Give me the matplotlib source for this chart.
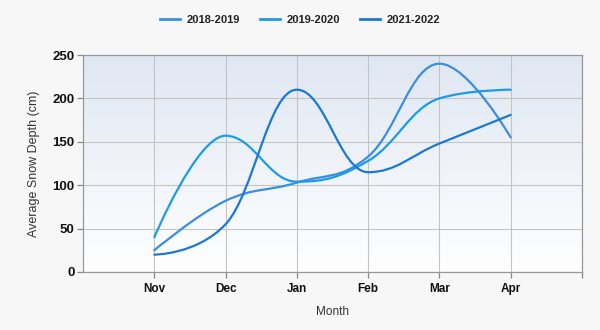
import matplotlib
matplotlib.use("Agg")
import matplotlib.pyplot as plt
import numpy as np
from matplotlib.path import Path
from matplotlib.patches import PathPatch
from matplotlib.lines import Line2D

plt.rcParams['font.family'] = ['Liberation Sans', 'DejaVu Sans']

months = ["Nov", "Dec", "Jan", "Feb", "Mar", "Apr"]
series_names = ["2018-2019", "2019-2020", "2021-2022"]
s2018 = [25, 82, 103, 133, 240, 155]
s2019 = [40, 157, 104, 128, 200, 210]
s2021 = [20, 55, 210, 115, 148, 181]
colors = ["#3b8de0", "#1c9be9", "#1a78d6"]

def hc_spline(xs, ys):
    n = len(xs)
    verts = [(xs[0], ys[0])]
    codes = [Path.MOVETO]
    sm = 1.5
    den = sm + 1
    left = [None] * n
    right = [None] * n
    for i in range(n):
        x, y = xs[i], ys[i]
        if i == 0 or i == n - 1:
            left[i] = (x, y)
            right[i] = (x, y)
            continue
        lx, ly = xs[i - 1], ys[i - 1]
        nx, ny = xs[i + 1], ys[i + 1]
        lcx = (sm * x + lx) / den
        lcy = (sm * y + ly) / den
        rcx = (sm * x + nx) / den
        rcy = (sm * y + ny) / den
        corr = 0
        if rcx != lcx:
            corr = (rcy - lcy) * (rcx - x) / (rcx - lcx) + y - rcy
        lcy += corr
        rcy += corr
        if lcy > ly and lcy > y:
            lcy = max(ly, y); rcy = 2 * y - lcy
        elif lcy < ly and lcy < y:
            lcy = min(ly, y); rcy = 2 * y - lcy
        if rcy > ny and rcy > y:
            rcy = max(ny, y); lcy = 2 * y - rcy
        elif rcy < ny and rcy < y:
            rcy = min(ny, y); lcy = 2 * y - rcy
        left[i] = (lcx, lcy)
        right[i] = (rcx, rcy)
    for i in range(1, n):
        verts += [right[i - 1], left[i], (xs[i], ys[i])]
        codes += [Path.CURVE4] * 3
    return Path(verts, codes)

fig = plt.figure(figsize=(6, 3.3), dpi=100)
fig.patch.set_facecolor("#f7f7f7")
ax = fig.add_axes([83 / 600, 1 - 272 / 330, (582 - 83) / 600, (272 - 55) / 330])

x = np.arange(1, len(months) + 1)
ax.set_xlim(0, 7)
ax.set_ylim(0, 250)

# gradient background
grad = np.linspace(0, 1, 256).reshape(-1, 1)
top = np.array([0xdf, 0xe7, 0xf2]) / 255
bot = np.array([0xff, 0xff, 0xff]) / 255
img = top[None, None, :] * (1 - grad[:, :, None]) + bot[None, None, :] * grad[:, :, None]
ax.imshow(img, extent=[0, 1, 0, 1], transform=ax.transAxes, aspect="auto", zorder=0)

for ys, c in zip([s2018, s2019, s2021], colors):
    p = hc_spline(list(x.astype(float)), [float(v) for v in ys])
    ax.add_patch(PathPatch(p, fill=False, edgecolor=c, lw=1.6, zorder=3, capstyle="round"))

ax.set_xticks(list(x) + [7])
ax.set_xticklabels(months + [""])
ax.set_yticks([0, 50, 100, 150, 200, 250])
ax.grid(True, color="#c4c4c4", lw=0.8, zorder=1)
ax.set_axisbelow(True)
for s in ax.spines.values():
    s.set_color("#999999")
    s.set_linewidth(0.9)
ax.tick_params(axis="both", colors="#888888", length=4, width=0.9, labelcolor="#111111",
               labelsize=8.5)
ax.tick_params(axis="y", labelsize=9.5)
for lab in ax.get_xticklabels() + ax.get_yticklabels():
    lab.set_fontweight("bold")
ax.tick_params(axis="x", pad=4)
ax.tick_params(axis="y", pad=2)
ax.set_xlabel("Month", fontsize=8.5, color="#333333", labelpad=8)
ax.set_ylabel("Average Snow Depth (cm)", fontsize=9, color="#333333", labelpad=9)

handles = [Line2D([0], [0], color=c, lw=2) for c in colors]
leg = fig.legend(handles, series_names, loc="center", bbox_to_anchor=(0.5, 1 - 20 / 330),
                 ncol=3, frameon=False, fontsize=8, handlelength=1.8, columnspacing=1.8,
                 handletextpad=0.6)
for t in leg.get_texts():
    t.set_fontweight("bold")
    t.set_color("#222222")

fig.savefig("out.png", dpi=100, facecolor=fig.get_facecolor())
